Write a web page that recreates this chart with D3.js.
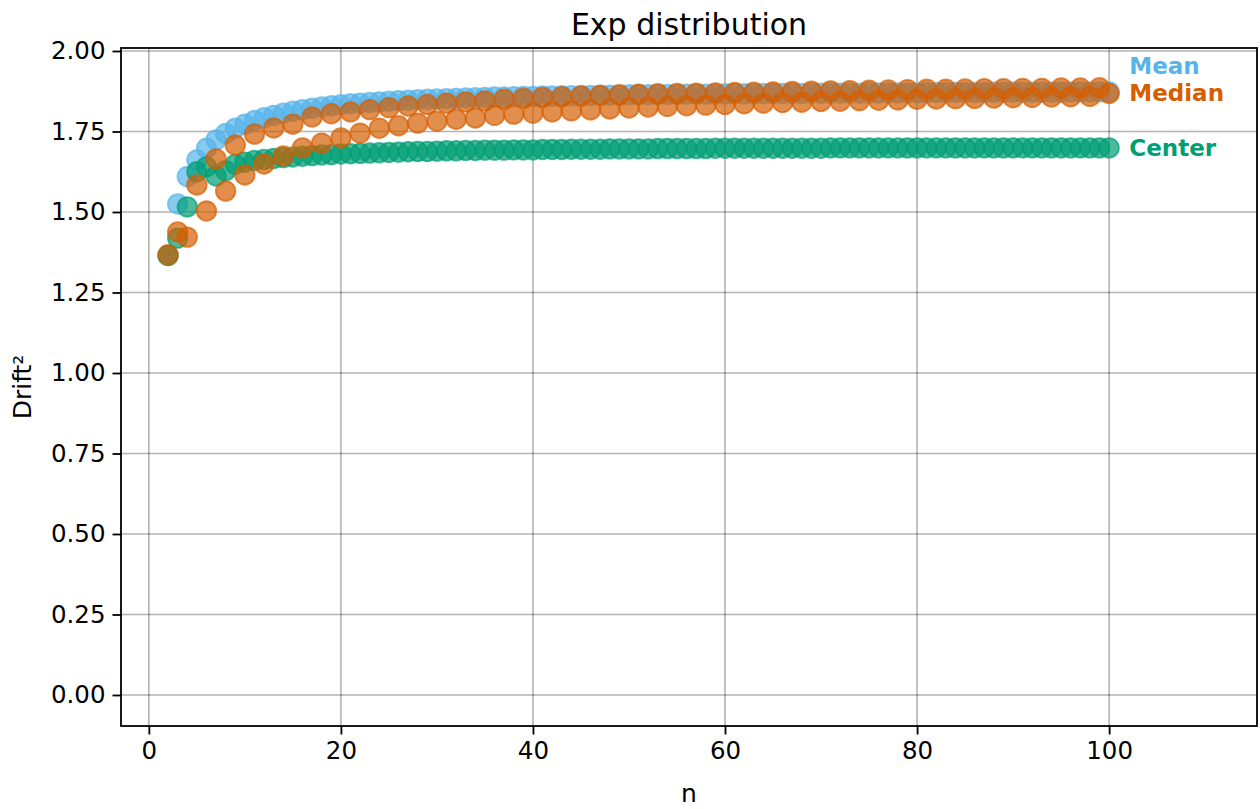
<!DOCTYPE html>
<html>
<head>
<meta charset="utf-8">
<script src="https://cdn.jsdelivr.net/npm/d3@7"></script>
<style>
  html, body { margin: 0; padding: 0; background: #fff; }
  svg { display: block; font-family: "DejaVu Sans", sans-serif; }
</style>
</head>
<body>
<svg id="chart" width="1260" height="809"></svg>
<script>
// Sample sizes n = 2..100
const nValues = d3.range(2, 101);

// Squared drift of the sample mean
const meanDrift = [
  1.365, 1.525, 1.610, 1.662, 1.698, 1.724, 1.744, 1.760, 1.773,
  1.784, 1.793, 1.800, 1.807, 1.813, 1.818, 1.822, 1.826, 1.830, 1.833,
  1.836, 1.838, 1.840, 1.842, 1.844, 1.846, 1.847, 1.849, 1.850, 1.851,
  1.852, 1.853, 1.854, 1.855, 1.856, 1.857, 1.857, 1.858, 1.859, 1.859,
  1.860, 1.860, 1.861, 1.861, 1.862, 1.862, 1.863, 1.863, 1.863, 1.864,
  1.864, 1.864, 1.865, 1.865, 1.865, 1.866, 1.866, 1.866, 1.866, 1.867,
  1.867, 1.867, 1.867, 1.868, 1.868, 1.868, 1.868, 1.868, 1.869, 1.869,
  1.869, 1.869, 1.869, 1.869, 1.870, 1.870, 1.870, 1.870, 1.870, 1.870,
  1.871, 1.871, 1.871, 1.871, 1.871, 1.871, 1.871, 1.872, 1.872, 1.872,
  1.872, 1.872, 1.872, 1.872, 1.872, 1.873, 1.873, 1.873, 1.873, 1.873
];

// Squared drift of the sample median (odd and even n alternate)
const medianDrift = [
  1.367, 1.438, 1.422, 1.584, 1.503, 1.665, 1.565, 1.708, 1.615,
  1.742, 1.649, 1.761, 1.674, 1.773, 1.699, 1.795, 1.714, 1.805, 1.730,
  1.811, 1.745, 1.818, 1.760, 1.824, 1.768, 1.829, 1.776, 1.834, 1.782,
  1.838, 1.788, 1.842, 1.792, 1.845, 1.800, 1.850, 1.804, 1.853, 1.807,
  1.856, 1.811, 1.858, 1.814, 1.860, 1.817, 1.862, 1.820, 1.864, 1.823,
  1.866, 1.826, 1.867, 1.828, 1.868, 1.830, 1.869, 1.832, 1.870, 1.834,
  1.871, 1.836, 1.872, 1.838, 1.873, 1.840, 1.874, 1.841, 1.875, 1.843,
  1.876, 1.844, 1.877, 1.846, 1.878, 1.847, 1.879, 1.848, 1.880, 1.850,
  1.881, 1.851, 1.881, 1.852, 1.882, 1.853, 1.883, 1.854, 1.883, 1.855,
  1.884, 1.856, 1.884, 1.857, 1.885, 1.858, 1.885, 1.859, 1.886, 1.868
];

// Squared drift of the center estimator
const centerDrift = [
  1.365, 1.419, 1.516, 1.625, 1.640, 1.612, 1.628, 1.648, 1.655,
  1.660, 1.663, 1.666, 1.669, 1.671, 1.673, 1.675, 1.677, 1.678, 1.680,
  1.681, 1.682, 1.683, 1.684, 1.685, 1.686, 1.687, 1.688, 1.688, 1.689,
  1.690, 1.690, 1.691, 1.691, 1.692, 1.692, 1.692, 1.693, 1.693, 1.693,
  1.694, 1.694, 1.694, 1.695, 1.695, 1.695, 1.695, 1.696, 1.696, 1.696,
  1.696, 1.696, 1.697, 1.697, 1.697, 1.697, 1.697, 1.697, 1.698, 1.698,
  1.698, 1.698, 1.698, 1.698, 1.698, 1.698, 1.698, 1.698, 1.698, 1.698,
  1.699, 1.699, 1.699, 1.699, 1.699, 1.699, 1.699, 1.699, 1.699, 1.699,
  1.699, 1.699, 1.699, 1.699, 1.699, 1.699, 1.699, 1.699, 1.699, 1.699,
  1.699, 1.699, 1.699, 1.699, 1.699, 1.699, 1.699, 1.699, 1.699, 1.699
];

const seriesNames = ["Mean", "Center", "Median"];
const seriesValues = [meanDrift, centerDrift, medianDrift];
const seriesColors = ["#56B4E9", "#009E73", "#D55E00"];

const xTicks = [0, 20, 40, 60, 80, 100];
const yTicks = [0.00, 0.25, 0.50, 0.75, 1.00, 1.25, 1.50, 1.75, 2.00];

const titleText = "Exp distribution";
const xLabel = "n";
const yLabel = "Drift\u00b2";

// ---- layout ----
const svg = d3.select("#chart");
const plot = { left: 121, right: 1257, top: 48, bottom: 726 };

const x = d3.scaleLinear().domain([-2.9, 115.4]).range([plot.left, plot.right]);
const y = d3.scaleLinear().domain([-0.0963, 2.0093]).range([plot.bottom, plot.top]);

const tickFont = 24.5;

// grid
const grid = svg.append("g");
grid.selectAll("line.gx").data(xTicks).join("line")
  .attr("x1", d => x(d)).attr("x2", d => x(d))
  .attr("y1", plot.top).attr("y2", plot.bottom)
  .attr("stroke", "#000").attr("stroke-opacity", 0.3).attr("stroke-width", 1.6);
grid.selectAll("line.gy").data(yTicks).join("line")
  .attr("x1", plot.left).attr("x2", plot.right)
  .attr("y1", d => y(d)).attr("y2", d => y(d))
  .attr("stroke", "#000").attr("stroke-opacity", 0.3).attr("stroke-width", 1.6);

// points
svg.append("clipPath").attr("id", "plotclip")
  .append("rect").attr("x", plot.left).attr("y", plot.top)
  .attr("width", plot.right - plot.left).attr("height", plot.bottom - plot.top);

const marks = svg.append("g").attr("clip-path", "url(#plotclip)");
seriesNames.forEach((name, i) => {
  const pts = nValues.map((n, j) => ({ n, v: seriesValues[i][j] }));
  marks.append("g").selectAll("circle").data(pts).join("circle")
    .attr("cx", d => x(d.n))
    .attr("cy", d => y(d.v))
    .attr("r", 9.8)
    .attr("fill", seriesColors[i])
    .attr("fill-opacity", 0.7)
    .attr("stroke", seriesColors[i])
    .attr("stroke-opacity", 0.7)
    .attr("stroke-width", 1.8);
});

// end-of-series labels, nudged apart so they do not collide
const labelGap = 27;
const labelOrder = ["Mean", "Median", "Center"];
const ends = labelOrder.map(name => {
  const i = seriesNames.indexOf(name);
  const vals = seriesValues[i];
  return { name, color: seriesColors[i], py: y(vals[vals.length - 1]) };
});
ends.sort((a, b) => b.py - a.py);
for (let k = 1; k < ends.length; k++) {
  if (ends[k - 1].py - ends[k].py < labelGap) ends[k].py = ends[k - 1].py - labelGap;
}
svg.append("g").selectAll("text").data(ends).join("text")
  .attr("x", x(102.1))
  .attr("y", d => d.py)
  .attr("dominant-baseline", "central")
  .attr("font-size", 23)
  .attr("font-weight", "bold")
  .attr("fill", d => d.color)
  .text(d => d.name);

// axes
const xAxis = d3.axisBottom(x).tickValues(xTicks).tickFormat(d3.format("d"))
  .tickSize(8.5).tickPadding(7);
const yAxis = d3.axisLeft(y).tickValues(yTicks).tickFormat(d3.format(".2f"))
  .tickSize(8.5).tickPadding(7);

const gx = svg.append("g").attr("transform", `translate(0,${plot.bottom})`).call(xAxis);
const gy = svg.append("g").attr("transform", `translate(${plot.left},0)`).call(yAxis);
[gx, gy].forEach(g => {
  g.select(".domain").remove();
  g.selectAll(".tick line").attr("stroke", "#000").attr("stroke-width", 1.8);
  g.selectAll(".tick text").attr("font-size", tickFont)
    .attr("font-family", "DejaVu Sans, sans-serif").attr("fill", "#000");
});

// frame
svg.append("rect")
  .attr("x", plot.left).attr("y", plot.top)
  .attr("width", plot.right - plot.left).attr("height", plot.bottom - plot.top)
  .attr("fill", "none").attr("stroke", "#000").attr("stroke-width", 1.8);

// title and axis labels
svg.append("text")
  .attr("x", (plot.left + plot.right) / 2).attr("y", 24)
  .attr("text-anchor", "middle").attr("dominant-baseline", "central")
  .attr("font-size", 30).attr("fill", "#000")
  .text(titleText);

svg.append("text")
  .attr("x", (plot.left + plot.right) / 2).attr("y", 793)
  .attr("text-anchor", "middle").attr("dominant-baseline", "central")
  .attr("font-size", 25).attr("fill", "#000")
  .text(xLabel);

svg.append("text")
  .attr("transform", `translate(22,${(plot.top + plot.bottom) / 2}) rotate(-90)`)
  .attr("text-anchor", "middle").attr("dominant-baseline", "central")
  .attr("font-size", 25).attr("fill", "#000")
  .text(yLabel);
</script>
</body>
</html>
